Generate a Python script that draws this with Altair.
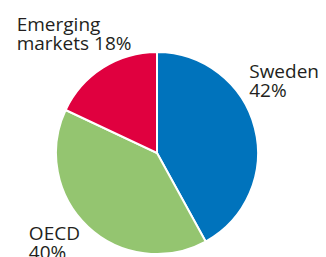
import altair as alt
import pandas as pd
import math

regions = ["Sweden", "OECD", "Emerging markets"]
shares = [42, 40, 18]
labels = ["Sweden\n42%", "OECD\n40%", "Emerging\nmarkets 18%"]
colors = ["#0073BC", "#94C570", "#E0003F"]
order = [0, 1, 2]

df = pd.DataFrame({"region": regions, "share": shares, "label": labels, "idx": order})

cx, cy = 149, 145

pie = alt.Chart(df).mark_arc(outerRadius=101, stroke="white", strokeWidth=2).encode(
    theta=alt.Theta("share:Q", stack=True),
    order=alt.Order("idx:Q"),
    color=alt.Color("region:N", scale=alt.Scale(domain=regions, range=colors), legend=None),
    x=alt.value(cx),
    y=alt.value(cy),
)

offsets = {"Sweden": (-24, -45), "OECD": (-46, 0), "Emerging markets": (-76, -21)}
texts = []
for r in regions:
    dx, dy = offsets[r]
    t = alt.Chart(df).transform_window(
        cum="sum(share)", sort=[alt.SortField("idx")]
    ).transform_calculate(
        mid="datum.cum - datum.share / 2"
    ).transform_filter(
        alt.datum.region == r
    ).mark_text(
        radius=120, align="left", baseline="alphabetic", lineBreak="\n",
        font="Open Sans", fontSize=19, lineHeight=19, color="#231F20",
        dx=dx, dy=dy,
    ).encode(
        theta=alt.Theta("mid:Q", scale=alt.Scale(domain=[0, 100], range=[0, 2 * math.pi])),
        text="label:N",
        x=alt.value(cx),
        y=alt.value(cy),
    )
    texts.append(t)

chart = alt.layer(pie, *texts).resolve_scale(theta="independent").properties(
    width=310, height=249, padding=0, autosize=alt.AutoSizeParams(type="none")
).configure_view(stroke=None)

chart.save("out.html", embed_options={"renderer": "svg", "actions": False})
